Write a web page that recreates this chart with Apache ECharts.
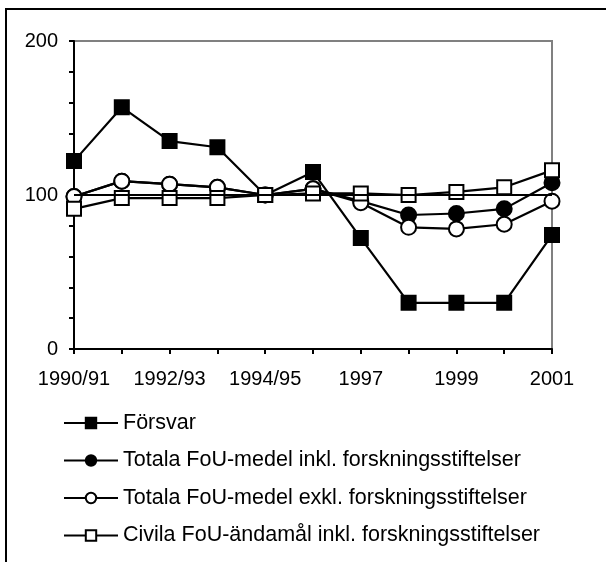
<!DOCTYPE html>
<html>
<head>
<meta charset="utf-8">
<script src="https://cdn.jsdelivr.net/npm/echarts@6/dist/echarts.min.js"></script>
<style>
  html, body { margin: 0; padding: 0; background: #fff; }
</style>
</head>
<body>
<div id="main" style="width: 606px;height:562px;"></div>
<script type="text/javascript">
    // 数据
    var categories = ['1990/91', '1991/92', '1992/93', '1993/94', '1994/95', '1995/96', '1997', '1998', '1999', '2000', '2001'];
    var forsvar = [122, 157, 135, 131, 100, 115, 72, 30, 30, 30, 74];
    var totalaInkl = [99, 109, 107, 105, 100, 104, 96, 87, 88, 91, 108];
    var totalaExkl = [99, 109, 107, 105, 100, 104, 95, 79, 78, 81, 96];
    var civila = [91, 98, 98, 98, 100, 101, 101, 100, 102, 105, 116];
    var baseLevel = 100;

    var font = 'Liberation Sans, Arial, sans-serif';
    var myChart = echarts.init(document.getElementById('main'));

    function lineSeries(name, data, symbol, size, filled) {
        return {
            name: name,
            type: 'line',
            data: data,
            symbol: symbol,
            symbolSize: size,
            showAllSymbol: true,
            lineStyle: {color: '#000', width: 2.2},
            itemStyle: {
                color: filled ? '#000' : '#fff',
                borderColor: '#000',
                borderWidth: 2
            },
            emphasis: {disabled: true},
            animation: false
        };
    }

    var series = [
        lineSeries('Försvar', forsvar, 'rect', 14, true),
        lineSeries('Totala FoU-medel inkl. forskningsstiftelser', totalaInkl, 'circle', 15, true),
        lineSeries('Totala FoU-medel exkl. forskningsstiftelser', totalaExkl, 'circle', 15, false),
        lineSeries('Civila FoU-ändamål inkl. forskningsstiftelser', civila, 'rect', 14, false)
    ];
    // 100-linjen
    series[0].markLine = {
        silent: true,
        symbol: 'none',
        label: {show: false},
        lineStyle: {color: '#000', width: 2.2, type: 'solid'},
        data: [{yAxis: baseLevel}]
    };

    var option = {
        backgroundColor: '#fff',
        textStyle: {fontFamily: font},
        graphic: [{
            type: 'rect',
            shape: {x: 6, y: 9, width: 700, height: 700},
            style: {fill: 'none', stroke: '#000', lineWidth: 2},
            silent: true
        }],
        grid: {
            left: 74, top: 41, width: 478, height: 308,
            show: true, borderColor: '#808080', borderWidth: 2
        },
        legend: {
            orient: 'vertical',
            left: 63,
            top: 412,
            padding: 0,
            itemWidth: 54,
            itemHeight: 13,
            itemGap: 15.5,
            data: series.map(function (s) { return s.name; }),
            textStyle: {fontFamily: font, fontSize: 21.5, color: '#000', lineHeight: 20}
        },
        xAxis: {
            type: 'category',
            data: categories,
            boundaryGap: false,
            axisLine: {lineStyle: {color: '#000', width: 2}},
            axisTick: {show: true, length: 5, interval: 0, lineStyle: {color: '#000', width: 2}},
            axisLabel: {interval: 1, color: '#000', fontSize: 20, fontFamily: font, margin: 20},
            splitLine: {show: false}
        },
        yAxis: {
            type: 'value',
            min: 0,
            max: 200,
            interval: 20,
            axisLine: {show: true, lineStyle: {color: '#000', width: 2}},
            axisTick: {show: true, length: 5, lineStyle: {color: '#000', width: 2}},
            axisLabel: {
                color: '#000', fontSize: 20, fontFamily: font, margin: 16,
                formatter: function (v) { return v % 100 === 0 ? v : ''; }
            },
            splitLine: {show: false}
        },
        series: series
    };
    myChart.setOption(option);
</script>
</body>
</html>
